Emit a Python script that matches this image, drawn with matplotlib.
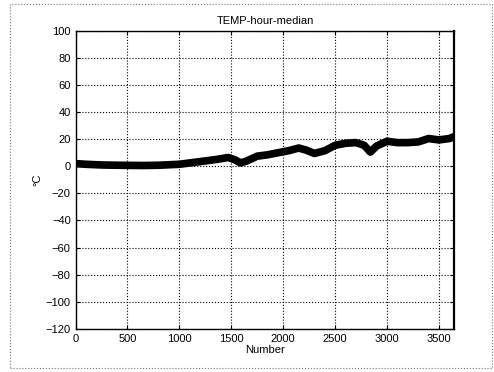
import numpy as np
import matplotlib.pyplot as plt
from matplotlib.patches import Rectangle

plt.rcParams['font.family'] = ['Liberation Sans', 'DejaVu Sans']

# hourly median temperature
number = [0, 100, 250, 400, 500, 650, 800, 1000, 1150, 1250, 1350, 1470,
          1530, 1590, 1650, 1750, 1850, 1950, 2050, 2150, 2220, 2300, 2400,
          2500, 2600, 2700, 2780, 2840, 2900, 3000, 3100, 3200, 3300, 3400,
          3500, 3600, 3650]
temp = [2, 1.5, 1, 0.8, 0.7, 0.6, 0.8, 1.5, 3, 4, 5, 6.5,
        5, 2.5, 4, 7.5, 8.5, 10, 11.5, 13.5, 12, 9.5, 11.5,
        15.5, 17, 17.5, 15.5, 10.5, 15, 18.5, 17.5, 17.5, 18, 20.5,
        19.5, 20.5, 22]
xticks = [0, 500, 1000, 1500, 2000, 2500, 3000, 3500]
yticks = [-120, -100, -80, -60, -40, -20, 0, 20, 40, 60, 80, 100]

fig = plt.figure(figsize=(4.94, 3.72), dpi=100)
ax = fig.add_axes([0.153, 0.116, 0.767, 0.801])

ax.plot(number, temp, color='black', lw=5.5, solid_joinstyle='round')

ax.set_xlim(0, 3650)
ax.set_ylim(-120, 100)
ax.set_xticks(xticks)
ax.set_yticks(yticks)
ax.tick_params(direction='in', top=True, right=True, labelsize=8, length=3)
ax.grid(True, linestyle=':', color='black', lw=0.8)
for s in ax.spines.values():
    s.set_linewidth(1.0)
ax.spines['right'].set_linewidth(1.6)

ax.set_title('TEMP-hour-median', fontsize=8, pad=5)
ax.set_xlabel('Number', fontsize=8, labelpad=1)
ax.set_ylabel('°C', fontsize=8, labelpad=2)

# outer scanned frame
fig.patches.append(Rectangle((0.02, 0.01), 0.975, 0.98, transform=fig.transFigure,
                             fill=False, ls=':', lw=0.8, ec='#777777'))

fig.savefig('out.png', dpi=100)
